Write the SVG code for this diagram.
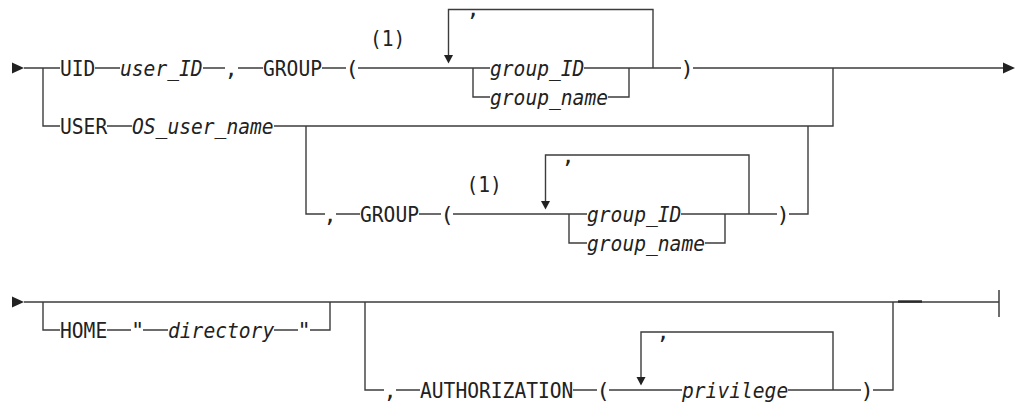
<svg xmlns="http://www.w3.org/2000/svg" width="1016" height="403" viewBox="0 0 1016 403">
<style>
.t{font-family:"DejaVu Sans Mono","Liberation Mono",monospace;font-size:22px;fill:#222}
.i{font-style:italic}
.m{text-anchor:middle}
.c{stroke:#3c3c3c;stroke-width:1.4;fill:none}
.a{fill:#222}
</style>
<rect width="1016" height="403" fill="#fff"/>
<g id="connectors">
<!-- row 1 -->
<polygon class="a" points="12,62.5 24,68 12,73.5"/>
<path class="c" d="M24,68H60M43,68V126H60M95,68H120M203,68H225M238,68H263M322,68H346M358,68H490M473,68V97H490M584,68H681M608,97H629V68M693,68H1003"/>
<path class="c" d="M653,68V9.5H448.5V56"/>
<polygon class="a" points="444,55 453,55 448.5,63.5"/>
<polygon class="a" points="1003,62.5 1015,68 1003,73.5"/>
<!-- row 2 -->
<path class="c" d="M833,68V126H274M107,126H132"/>
<!-- row 3 -->
<path class="c" d="M306,126V214H325M336,214H360M419,214H441M453,214H587M569,214V243H587M681,214H777M705,243H725V214M789,214H808V126"/>
<path class="c" d="M749,214V155H545.5V202"/>
<polygon class="a" points="541,201 550,201 545.5,209.5"/>
<!-- row 4 -->
<polygon class="a" points="12,296.5 24,302 12,307.5"/>
<path class="c" d="M24,302H999M43,302V330H60M107,330H131M143,330H168M274,330H298M310,330H330V302"/>
<path d="M898,301.5H922" stroke="#2a2a2a" stroke-width="2.4"/>
<path d="M999,290V317" stroke="#3c3c3c" stroke-width="1.5"/>
<!-- row 5 -->
<path class="c" d="M365,302V390H384M396,390H420M573,390H597M609,390H682M788,390H861M873,390H893V302"/>
<path class="c" d="M833,390V332H641V378"/>
<polygon class="a" points="636.5,377 645.5,377 641,385.5"/>
</g>
<g id="uid"><text class="t" x="60" y="76" textLength="35.4" lengthAdjust="spacingAndGlyphs">UID</text></g>
<g id="user_id"><text class="t i" x="120" y="76" textLength="82.6" lengthAdjust="spacingAndGlyphs">user_ID</text></g>
<g id="comma1"><text class="t m" x="231" y="76">,</text></g>
<g id="group1"><text class="t" x="263" y="76" textLength="59" lengthAdjust="spacingAndGlyphs">GROUP</text></g>
<g id="lparen1"><text class="t m" x="352" y="76">(</text></g>
<g id="note1"><text class="t" x="370" y="46" textLength="35.4" lengthAdjust="spacingAndGlyphs">(1)</text></g>
<g id="loopcomma1"><text class="t m" x="473" y="16">,</text></g>
<g id="group_id1"><text class="t i" x="490" y="76" textLength="94.4" lengthAdjust="spacingAndGlyphs">group_ID</text></g>
<g id="group_name1"><text class="t i" x="490" y="105" textLength="118" lengthAdjust="spacingAndGlyphs">group_name</text></g>
<g id="rparen1"><text class="t m" x="687" y="76">)</text></g>
<g id="user"><text class="t" x="60" y="134" textLength="47.2" lengthAdjust="spacingAndGlyphs">USER</text></g>
<g id="os_user_name"><text class="t i" x="132" y="134" textLength="141.6" lengthAdjust="spacingAndGlyphs">OS_user_name</text></g>
<g id="comma2"><text class="t m" x="330" y="222">,</text></g>
<g id="group2"><text class="t" x="360" y="222" textLength="59" lengthAdjust="spacingAndGlyphs">GROUP</text></g>
<g id="lparen2"><text class="t m" x="447" y="222">(</text></g>
<g id="note2"><text class="t" x="466.5" y="192" textLength="35.4" lengthAdjust="spacingAndGlyphs">(1)</text></g>
<g id="loopcomma2"><text class="t m" x="568" y="163">,</text></g>
<g id="group_id2"><text class="t i" x="587" y="222" textLength="94.4" lengthAdjust="spacingAndGlyphs">group_ID</text></g>
<g id="group_name2"><text class="t i" x="587" y="251" textLength="118" lengthAdjust="spacingAndGlyphs">group_name</text></g>
<g id="rparen2"><text class="t m" x="783" y="222">)</text></g>
<g id="home"><text class="t" x="60" y="338" textLength="47.2" lengthAdjust="spacingAndGlyphs">HOME</text></g>
<g id="quote1"><text class="t m" x="137.5" y="338">"</text></g>
<g id="directory"><text class="t i" x="168" y="338" textLength="106.2" lengthAdjust="spacingAndGlyphs">directory</text></g>
<g id="quote2"><text class="t m" x="304" y="338">"</text></g>
<g id="comma3"><text class="t m" x="390" y="398">,</text></g>
<g id="authorization"><text class="t" x="420" y="398" textLength="153.4" lengthAdjust="spacingAndGlyphs">AUTHORIZATION</text></g>
<g id="lparen3"><text class="t m" x="603" y="398">(</text></g>
<g id="loopcomma3"><text class="t m" x="663" y="339">,</text></g>
<g id="privilege"><text class="t i" x="682" y="398" textLength="106.2" lengthAdjust="spacingAndGlyphs">privilege</text></g>
<g id="rparen3"><text class="t m" x="867" y="398">)</text></g>
</svg>
